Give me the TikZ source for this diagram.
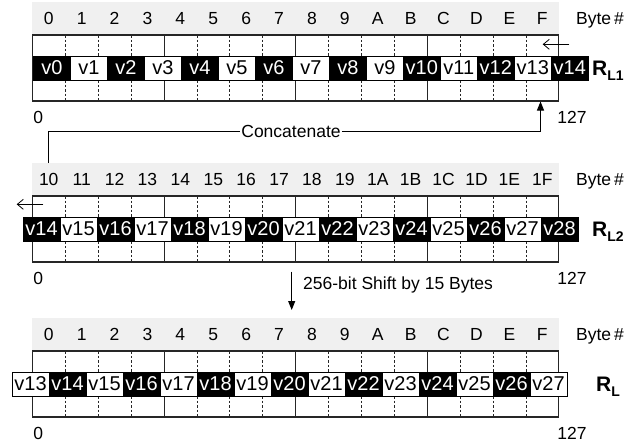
\documentclass[tikz,border=0pt]{standalone}
\usepackage{fontspec}
\setmainfont{Liberation Sans}
\usetikzlibrary{arrows.meta}
\begin{document}
\begin{tikzpicture}[x=1pt,y=-1pt,
 lbl/.style={font=\fontsize{17.5}{20}\selectfont, inner sep=0pt},
 hlbl/.style={lbl, anchor=base},
 cellb/.style={draw=black, fill=black, text=white, minimum width=37pt, minimum height=24pt, inner sep=0pt, anchor=west, font=\fontsize{20}{22}\selectfont, line width=0.7pt},
 cellw/.style={cellb, fill=white, text=black},
 hdrbg/.style={fill=black!6, draw=none, minimum width=526.4pt, minimum height=33pt, anchor=north west, inner sep=0pt, outer sep=0pt},
 regbox/.style={draw=black!85, line width=1.1pt, minimum width=526.4pt, minimum height=66pt, anchor=north west, inner sep=0pt, outer sep=0pt},
 sep/.style={draw=black!85, line width=0.8pt},
 dsep/.style={draw=black!85, line width=0.6pt, dash pattern=on 2.5pt off 2pt},
 conn/.style={draw=black, line width=0.9pt, -{Triangle[length=9pt,width=7pt]}},
 dirarrow/.style={draw=black, line width=0.8pt, -{Straight Barb[length=6pt,width=10pt]}},
 reglbl/.style={anchor=base west, inner sep=0pt, font=\fontsize{21}{24}\selectfont\bfseries}
]
\useasboundingbox (0,0) rectangle (639,442);

% register frames
\foreach \pn/\yo/\pre in {1/0/{}, 2/161/1, 3/316/{}} {
  \node[hdrbg] (hdr\pn) at (32.3,\yo+2) {};
  \foreach \t [count=\i from 0] in {0,1,2,3,4,5,6,7,8,9,A,B,C,D,E,F}
    \node[hlbl] (h\pn-\i) at ({32.3+(\i+0.5)*32.9},\yo+24.3) {\pre\t};
  \foreach \k in {1,2,3,5,6,7,9,10,11,13,14,15}
    \draw[dsep] ({32.3+\k*32.9},\yo+35) -- ({32.3+\k*32.9},\yo+101);
  \foreach \k in {4,8,12}
    \draw[sep] ({32.3+\k*32.9},\yo+35) -- ({32.3+\k*32.9},\yo+101);
  \node[regbox] (box\pn) at (32.3,\yo+35) {};
  \node[hlbl] (lo\pn) at (38.3,\yo+123.3) {0};
  \node[hlbl] (hi\pn) at (572,\yo+123.3) {127};
  \node[hlbl] (bn\pn) at (600,\yo+24.3) {Byte\,\#};
}

% value strips
\foreach \pn/\yo/\st/\v in {1/0/33/0, 2/161/22.7/14, 3/316/11.7/13} {
  \foreach \k in {0,...,14} {
    \pgfmathtruncatemacro\n{\v+\k}
    \ifodd\n
      \node[cellw] (v\n-\pn) at ({\st+\k*37},\yo+68) {v\n};
    \else
      \node[cellb] (v\n-\pn) at ({\st+\k*37},\yo+68) {v\n};
    \fi
  }
}

% register labels
\node[reglbl] (r1) at (592,75) {R\raisebox{-5pt}{\fontsize{14}{15}\selectfont L1}};
\node[reglbl] (r2) at (592,236) {R\raisebox{-5pt}{\fontsize{14}{15}\selectfont L2}};
\node[reglbl] (r3) at (596,391) {R\raisebox{-5pt}{\fontsize{14}{15}\selectfont L}};

% direction arrows
\coordinate (p1s) at (569.3,44.3);
\coordinate (p1e) at (542.7,44.3);
\draw[dirarrow] (p1s) -- (p1e);
\coordinate (p2s) at (43.3,204.3);
\coordinate (p2e) at (16.7,204.3);
\draw[dirarrow] (p2s) -- (p2e);

% concatenate connector
\coordinate (cs) at (48.5,163);
\coordinate (ce) at (540.5,101.5);
\node[lbl, fill=white, inner sep=1pt] (cat) at (291,131) {Concatenate};
\draw[conn] (cs) |- (cat) -| (ce);

% shift connector
\coordinate (ss) at (291.7,271.7);
\coordinate (se) at (291.7,310);
\draw[conn] (ss) -- (se);
\node[lbl, anchor=west] (shift) at (303,285) {256-bit Shift by 15 Bytes};
\end{tikzpicture}
\end{document}
